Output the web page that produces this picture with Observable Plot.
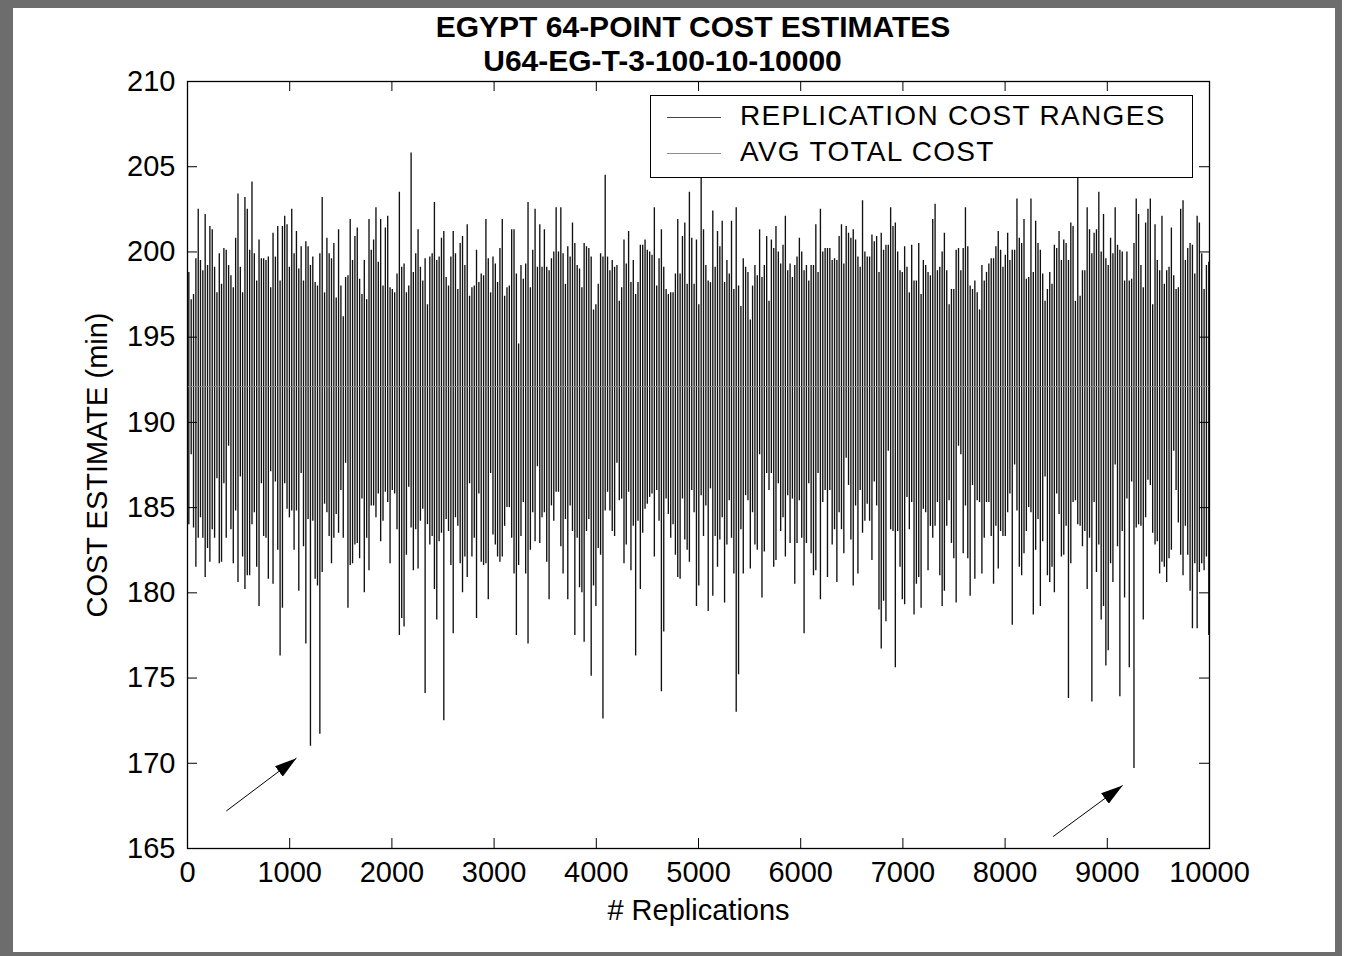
<!DOCTYPE html>
<html>
<head>
<meta charset="utf-8">
<script src="https://cdn.jsdelivr.net/npm/d3@7"></script>
<script src="https://cdn.jsdelivr.net/npm/@observablehq/plot@0.6"></script>
<style>
  html, body { margin: 0; padding: 0; background: #fff; }
  #page { position: relative; width: 1351px; height: 956px; overflow: hidden; background: #fff;
          font-family: "Liberation Sans", Arial, Helvetica, sans-serif; color: #000; }
  #chart { position: absolute; left: 0; top: 0; }
  #border { position: absolute; left: 0; top: 0; width: 1342px; height: 956px; box-sizing: border-box;
            border-style: solid; border-color: #6d6d6d; border-width: 8px 7px 4px 13px; pointer-events: none; }
  .title { position: absolute; text-align: center; font-weight: bold;
           font-size: 30px; line-height: 30px; white-space: nowrap; }
  #legend { position: absolute; left: 650px; top: 95px; width: 543px; height: 83px; box-sizing: border-box;
            border: 1.3px solid #000; background: #fff; }
  .lg-line { position: absolute; left: 16px; width: 54px; height: 0; border-top: 1px solid #555; }
  .lg-text { position: absolute; left: 89px; font-size: 28px; line-height: 28px; letter-spacing: 1.3px; white-space: nowrap; }
</style>
</head>
<body>
<div id="page">
  <div id="chart"></div>
  <div class="title" id="t1" style="top:12px;left:0;width:1386px">EGYPT 64-POINT COST ESTIMATES</div>
  <div class="title" id="t2" style="top:46px;left:0;width:1325px">U64-EG-T-3-100-10-10000</div>
  <div id="legend">
    <div class="lg-line" style="top:21px;border-top-color:#444"></div>
    <div class="lg-text" id="lg1" style="top:6px">REPLICATION COST RANGES</div>
    <div class="lg-line" style="top:57px;border-top-color:#8a8a8a"></div>
    <div class="lg-text" id="lg2" style="top:42px">AVG TOTAL COST</div>
  </div>
  <div id="border"></div>
</div>
<script>
// ---------- data ----------
const chartTitle = "EGYPT 64-POINT COST ESTIMATES";
const chartSubtitle = "U64-EG-T-3-100-10-10000";
const legendLabels = ["REPLICATION COST RANGES", "AVG TOTAL COST"];
const xLabel = "# Replications";
const yLabel = "COST ESTIMATE (min)";
const xTicks = [0, 1000, 2000, 3000, 4000, 5000, 6000, 7000, 8000, 9000, 10000];
const yTicks = [165, 170, 175, 180, 185, 190, 195, 200, 205, 210];
const avgTotalCost = 192.1;
const firstReplication = 13;
const replicationStep = 22.89;

// upper end of each replication cost range (left to right)
const rangeHigh = [
  198.8,197.2,197.5,199.6,202.5,199.5,198.9,202.2,199.2,201.5,
  201.3,199.1,197.6,199.9,198.1,200.2,200.1,199.2,198.6,197.9,
  200.8,203.4,199.1,197.6,203.2,202.5,200.1,204.1,199.9,198.3,
  200.7,199.6,199.6,199.5,199.7,197.9,201.1,199.7,201.5,198.3,
  201.5,202.1,201.6,199.1,202.5,199.9,201.2,199.0,200.3,198.3,
  200.6,200.3,199.2,199.7,198.2,198.0,199.9,203.2,197.6,200.8,
  199.9,199.6,200.5,197.3,201.3,198.0,196.2,198.5,198.6,201.9,
  199.5,200.9,201.4,198.4,197.5,199.5,197.2,201.9,200.1,200.7,
  202.6,199.4,201.9,198.0,201.4,202.1,197.9,197.8,197.6,198.7,
  203.5,199.1,199.3,197.6,198.0,205.8,198.8,199.9,201.3,199.1,
  198.3,199.6,196.9,199.7,199.9,202.9,199.5,199.7,200.8,201.2,
  198.5,198.0,199.7,201.2,199.9,197.8,200.5,200.9,199.2,201.6,
  197.4,197.9,198.0,200.1,198.2,198.7,198.6,201.9,199.6,197.6,
  199.7,199.3,198.2,200.2,201.9,197.4,197.9,198.0,201.3,201.3,
  198.7,194.6,199.2,198.4,199.3,202.9,
  197.9,200.1,202.5,199.1,201.6,199.1,201.3,199.1,198.9,199.6,
  200.0,202.6,200.0,202.6,199.9,198.1,200.3,199.7,201.7,200.5,
  199.2,199.0,197.9,200.5,200.3,200.2,199.7,196.6,196.9,198.1,
  199.9,199.7,204.5,199.7,198.9,199.5,199.1,199.2,197.1,197.9,
  200.7,199.3,201.2,198.2,199.5,197.5,198.2,200.4,200.4,200.7,
  200.1,200.0,199.8,202.6,198.0,199.6,201.3,199.1,197.8,197.5,
  197.6,197.6,198.7,201.9,198.7,200.9,201.7,198.1,203.5,200.8,
  198.1,200.7,196.9,204.6,201.3,199.2,198.3,198.2,202.4,199.1,
  201.2,200.3,201.8,198.2,199.5,198.7,201.8,197.8,202.6,198.0,
  196.8,199.6,199.1,198.8,196.0,198.0,199.2,198.6,201.3,198.5,
  199.2,200.9,197.1,200.7,200.2,201.5,200.0,199.3,200.4,202.1,
  198.9,199.3,198.5,199.2,199.7,200.8,200.0,198.9,199.2,198.3,
  199.2,199.2,201.6,198.8,202.5,200.0,200.2,200.2,200.2,199.5,
  199.6,199.5,200.9,201.6,199.3,201.5,201.1,200.8,201.3,200.7,
  199.7,199.1,203.0,200.0,199.7,
  199.7,201.0,200.6,200.9,198.8,201.1,200.1,200.4,200.4,202.6,
  201.5,201.7,200.0,198.9,198.8,200.3,199.1,197.6,200.4,198.3,
  198.3,200.5,197.5,199.5,199.2,198.8,198.6,201.9,202.8,198.9,
  199.1,200.0,201.1,198.9,196.9,197.8,197.8,200.1,200.2,198.9,
  200.2,202.6,200.3,198.0,197.8,198.3,197.6,196.6,199.2,198.3,
  198.8,199.3,199.6,199.6,200.3,201.2,200.1,199.1,199.8,201.1,
  199.5,200.1,200.1,203.1,200.8,200.5,201.9,198.4,198.5,203.1,
  198.8,201.8,200.5,200.1,198.7,197.1,197.8,198.8,198.1,200.4,
  200.2,201.2,199.5,200.7,200.5,199.5,201.7,201.5,197.1,205.0,
  197.4,198.9,198.9,202.6,201.3,199.9,201.1,201.3,203.5,200.0,
  202.2,199.6,199.2,200.8,199.9,202.6,200.4,200.1,200.0,198.3,
  200.0,198.3,198.4,200.5,203.1,202.2,199.2,197.9,201.7,202.5,
  203.1,196.9,201.6,199.5,198.9,202.1,198.1,198.9,199.1,201.4,
  198.6,197.8,197.9,202.5,203.0,199.5,200.2,200.5,200.4,198.7,
  202.1,201.7,199.9,197.8,199.2,199.4
];

// lower end of each replication cost range (left to right)
const rangeLow = [
  184.0,188.1,183.8,181.5,183.2,184.4,183.2,180.9,182.6,181.8,
  183.7,183.2,186.7,181.7,181.8,186.4,183.2,188.6,183.7,181.7,
  184.8,180.6,186.8,182.1,180.2,181.0,181.0,184.0,184.7,181.5,
  179.2,186.4,183.3,183.2,180.8,187.1,180.5,186.5,182.5,176.3,
  179.1,186.4,184.9,184.4,184.8,182.5,184.8,180.1,187.0,182.7,
  177.0,184.3,171.0,184.2,180.8,180.4,171.7,181.2,185.2,184.7,
  183.3,181.7,183.2,184.6,183.5,186.0,183.2,187.6,179.1,181.6,
  181.7,182.8,182.9,182.0,185.5,180.0,183.2,181.3,185.1,185.1,
  184.4,185.8,183.0,184.2,185.9,185.3,181.7,186.0,185.8,183.7,
  177.5,178.5,178.0,182.2,186.2,183.8,181.3,183.7,181.4,184.2,
  184.9,174.1,184.0,182.8,183.3,180.2,178.4,183.0,183.5,172.5,
  184.3,183.6,181.6,177.6,184.4,183.9,181.7,180.0,182.1,180.9,
  186.4,182.1,183.2,178.5,185.8,181.8,181.6,181.7,179.6,187.0,
  183.4,182.8,182.1,181.8,182.1,183.9,185.0,185.0,183.2,181.1,
  177.5,181.6,183.3,185.3,181.1,177.0,
  182.5,184.7,183.0,187.4,182.9,184.4,184.7,181.8,179.6,185.1,
  184.2,185.9,185.9,182.7,181.1,184.3,179.6,185.1,183.6,177.5,
  183.2,180.3,180.0,177.1,183.6,184.3,175.1,180.4,179.2,182.6,
  182.2,172.6,184.8,185.9,184.8,183.6,183.3,187.6,185.4,185.5,
  181.7,182.8,185.9,181.3,183.9,176.3,184.2,180.2,183.5,184.9,
  185.2,185.6,185.8,182.1,186.0,184.2,174.2,177.7,185.5,184.6,
  183.2,184.0,182.2,180.9,180.8,185.5,183.1,182.5,181.8,186.0,
  184.7,179.2,180.4,185.7,183.3,185.1,178.9,186.1,179.8,183.3,
  181.5,183.1,184.4,179.4,182.8,185.4,183.2,181.1,173.0,175.2,
  183.7,181.1,185.7,185.4,181.4,184.7,182.8,182.5,188.1,179.7,
  182.4,187.0,186.0,187.0,181.5,181.9,186.4,183.6,184.4,182.1,
  185.7,182.9,185.5,180.5,182.9,185.4,183.2,177.6,182.9,186.4,
  182.3,181.0,181.3,187.0,179.6,185.3,186.0,180.9,186.0,182.8,
  183.7,180.6,184.7,183.7,182.3,187.9,186.3,183.1,180.4,185.1,
  181.1,186.0,183.5,184.2,185.2,
  184.2,181.9,186.5,185.1,179.0,176.7,179.5,178.3,188.3,183.7,
  183.6,175.6,183.6,181.5,179.6,179.3,185.6,183.7,185.3,178.7,
  180.5,180.9,179.1,184.9,184.7,181.3,183.9,183.2,183.9,185.3,
  181.0,179.2,180.1,183.9,185.4,182.9,182.0,179.4,188.6,188.1,
  182.3,185.1,182.0,179.8,186.3,180.8,185.4,185.3,181.1,183.2,
  185.3,185.3,183.3,180.5,183.9,181.4,183.6,183.3,183.3,184.7,
  185.8,178.1,187.5,184.8,181.5,181.0,182.3,183.6,185.0,184.7,
  178.7,182.5,184.3,179.2,183.0,186.8,181.0,180.6,181.5,180.0,
  185.8,184.6,182.1,182.2,183.9,173.8,181.7,185.3,185.4,184.0,
  183.9,182.7,183.6,180.2,183.2,173.6,185.3,181.2,182.8,178.4,
  179.2,175.7,176.6,181.7,180.6,187.5,182.7,173.9,183.6,179.7,
  185.5,175.6,186.5,169.7,183.8,184.0,183.9,178.4,184.4,186.6,
  186.3,183.5,182.8,183.0,181.1,181.8,181.5,180.6,182.0,182.5,
  188.3,186.0,184.1,182.2,181.0,183.9,182.2,180.1,177.9,181.7,
  177.9,181.2,181.7,181.3,182.1,177.5
];

// annotation arrows pointing at the two lowest costs (replication, cost)
const arrowFromRep = [380, 8470];
const arrowFromCost = [167.2, 165.7];
const arrowToRep = [1066, 9150];
const arrowToCost = [170.3, 168.7];

// ---------- build ----------
document.getElementById("t1").textContent = chartTitle;
document.getElementById("t2").textContent = chartSubtitle;
document.getElementById("lg1").textContent = legendLabels[0];
document.getElementById("lg2").textContent = legendLabels[1];

const n = Math.min(rangeHigh.length, rangeLow.length);
const ranges = d3.range(n).map(i => ({
  rep: Math.round(firstReplication + i * replicationStep),
  lo: rangeLow[i],
  hi: rangeHigh[i]
}));
const arrows = arrowFromRep.map((r, i) => ({
  x1: r, y1: arrowFromCost[i], x2: arrowToRep[i], y2: arrowToCost[i]
}));

const W = 1351, H = 956;
const mL = 187, mR = 142, mT = 81, mB = 108;
const innerW = W - mL - mR, innerH = H - mT - mB;
const tickLen = 10;

const svg = Plot.plot({
  width: W,
  height: H,
  marginLeft: mL,
  marginRight: mR,
  marginTop: mT,
  marginBottom: mB,
  style: {fontFamily: "'Liberation Sans', Arial, Helvetica, sans-serif", fontSize: "29px", color: "#000", background: "#fff", overflow: "visible"},
  x: {domain: [0, 10000]},
  y: {domain: [165, 210]},
  marks: [
    Plot.ruleX(ranges, {x: "rep", y1: "lo", y2: "hi", stroke: "#111", strokeWidth: 1.35}),
    Plot.ruleY([avgTotalCost], {stroke: "#8a8a8a", strokeWidth: 1}),
    Plot.link(arrows, {x1: "x1", y1: "y1", x2: "x2", y2: "y2", stroke: "#000", strokeWidth: 1}),
    // inward ticks on all four sides
    Plot.ruleY(yTicks, {insetRight: innerW - tickLen, stroke: "#000", strokeWidth: 1}),
    Plot.ruleY(yTicks, {insetLeft: innerW - tickLen, stroke: "#000", strokeWidth: 1}),
    Plot.ruleX(xTicks, {insetTop: innerH - tickLen, stroke: "#000", strokeWidth: 1}),
    Plot.ruleX(xTicks, {insetBottom: innerH - tickLen, stroke: "#000", strokeWidth: 1}),
    Plot.frame({stroke: "#000", strokeWidth: 1.3}),
    Plot.axisY(yTicks, {anchor: "left", tickSize: 0, tickPadding: 12, label: null, fontSize: 29}),
    Plot.axisX(xTicks, {anchor: "bottom", tickSize: 0, tickPadding: 13, label: null, fontSize: 29, tickFormat: d => String(d)}),
    Plot.text([xLabel], {frameAnchor: "bottom", text: d => d, dy: 62, fontSize: 29, lineAnchor: "middle", textAnchor: "middle"}),
    Plot.text([yLabel], {frameAnchor: "left", text: d => d, dx: -90, rotate: -90, fontSize: 29, lineAnchor: "middle", textAnchor: "middle"})
  ]
});

// filled arrow heads for the annotation arrows
const ns = "http://www.w3.org/2000/svg";
const defs = document.createElementNS(ns, "defs");
const marker = document.createElementNS(ns, "marker");
marker.setAttribute("id", "filledHead");
marker.setAttribute("viewBox", "0 0 22 13");
marker.setAttribute("refX", "22");
marker.setAttribute("refY", "6.5");
marker.setAttribute("markerWidth", "22");
marker.setAttribute("markerHeight", "13");
marker.setAttribute("markerUnits", "userSpaceOnUse");
marker.setAttribute("orient", "auto");
const head = document.createElementNS(ns, "path");
head.setAttribute("d", "M0,0L22,6.5L0,13Z");
head.setAttribute("fill", "#000");
marker.appendChild(head);
defs.appendChild(marker);
svg.insertBefore(defs, svg.firstChild);
svg.querySelectorAll('g[aria-label="link"] path').forEach(p => p.setAttribute("marker-end", "url(#filledHead)"));

document.getElementById("chart").appendChild(svg);
</script>
</body>
</html>
